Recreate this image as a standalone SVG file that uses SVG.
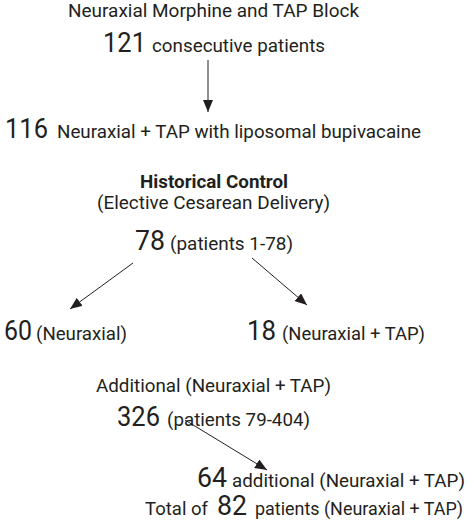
<svg xmlns="http://www.w3.org/2000/svg" width="474" height="531" viewBox="0 0 474 531">
<style>
text{font-family:Roboto,"Open Sans",sans-serif;fill:#231f20}
.s{font-size:17.5px}
.b{font-size:28px}
.bold{font-weight:bold}
.c{stroke:#231f20;stroke-width:1;fill:none}
</style>
<defs>
<marker id="ah" viewBox="0 0 12 10" refX="12" refY="5" markerWidth="12" markerHeight="10" markerUnits="userSpaceOnUse" orient="auto">
<path d="M0,0L12,5L0,10z" fill="#231f20"/>
</marker>
</defs>
<rect width="474" height="531" fill="#fff"/>
<g id="n1">
<text class="s" x="68" y="17" textLength="291" lengthAdjust="spacingAndGlyphs">Neuraxial Morphine and TAP Block</text>
<text class="b" x="103" y="52" textLength="43" lengthAdjust="spacingAndGlyphs">121</text>
<text class="s" x="152" y="52" textLength="173" lengthAdjust="spacingAndGlyphs">consecutive patients</text>
</g>
<g id="n2">
<text class="b" x="5" y="138" textLength="43" lengthAdjust="spacingAndGlyphs">116</text>
<text class="s" x="57" y="138" textLength="364" lengthAdjust="spacingAndGlyphs">Neuraxial + TAP with liposomal bupivacaine</text>
</g>
<g id="n3">
<text class="s bold" x="140" y="188" textLength="148" lengthAdjust="spacingAndGlyphs">Historical Control</text>
<text class="s" x="97" y="209" textLength="233" lengthAdjust="spacingAndGlyphs">(Elective Cesarean Delivery)</text>
<text class="b" x="135" y="250" textLength="30" lengthAdjust="spacingAndGlyphs">78</text>
<text class="s" x="170" y="250" textLength="123" lengthAdjust="spacingAndGlyphs">(patients 1-78)</text>
</g>
<g id="n4">
<text class="b" x="4" y="340" textLength="28" lengthAdjust="spacingAndGlyphs">60</text>
<text class="s" x="36" y="340" textLength="91" lengthAdjust="spacingAndGlyphs">(Neuraxial)</text>
</g>
<g id="n5">
<text class="b" x="247" y="340" textLength="29" lengthAdjust="spacingAndGlyphs">18</text>
<text class="s" x="282" y="340" textLength="143" lengthAdjust="spacingAndGlyphs">(Neuraxial + TAP)</text>
</g>
<g id="n6">
<text class="s" x="96" y="392" textLength="235" lengthAdjust="spacingAndGlyphs">Additional (Neuraxial + TAP)</text>
<text class="b" x="117" y="426" textLength="43" lengthAdjust="spacingAndGlyphs">326</text>
<text class="s" x="167" y="426" textLength="143" lengthAdjust="spacingAndGlyphs">(patients 79-404)</text>
</g>
<g id="n7">
<text class="b" x="197" y="487" textLength="30" lengthAdjust="spacingAndGlyphs">64</text>
<text class="s" x="232" y="487" textLength="233" lengthAdjust="spacingAndGlyphs">additional (Neuraxial + TAP)</text>
<text class="s" x="145" y="515" textLength="63" lengthAdjust="spacingAndGlyphs">Total of</text>
<text class="b" x="217" y="515" textLength="30" lengthAdjust="spacingAndGlyphs">82</text>
<text class="s" x="255" y="515" textLength="208" lengthAdjust="spacingAndGlyphs">patients (Neuraxial + TAP)</text>
</g>
<g id="connectors">
<line class="c" x1="208" y1="60" x2="208" y2="112" marker-end="url(#ah)"/>
<line class="c" x1="133" y1="263" x2="70" y2="309" marker-end="url(#ah)"/>
<line class="c" x1="252" y1="258" x2="307" y2="305" marker-end="url(#ah)"/>
<line class="c" x1="185" y1="420" x2="267" y2="470" marker-end="url(#ah)"/>
</g>
</svg>
